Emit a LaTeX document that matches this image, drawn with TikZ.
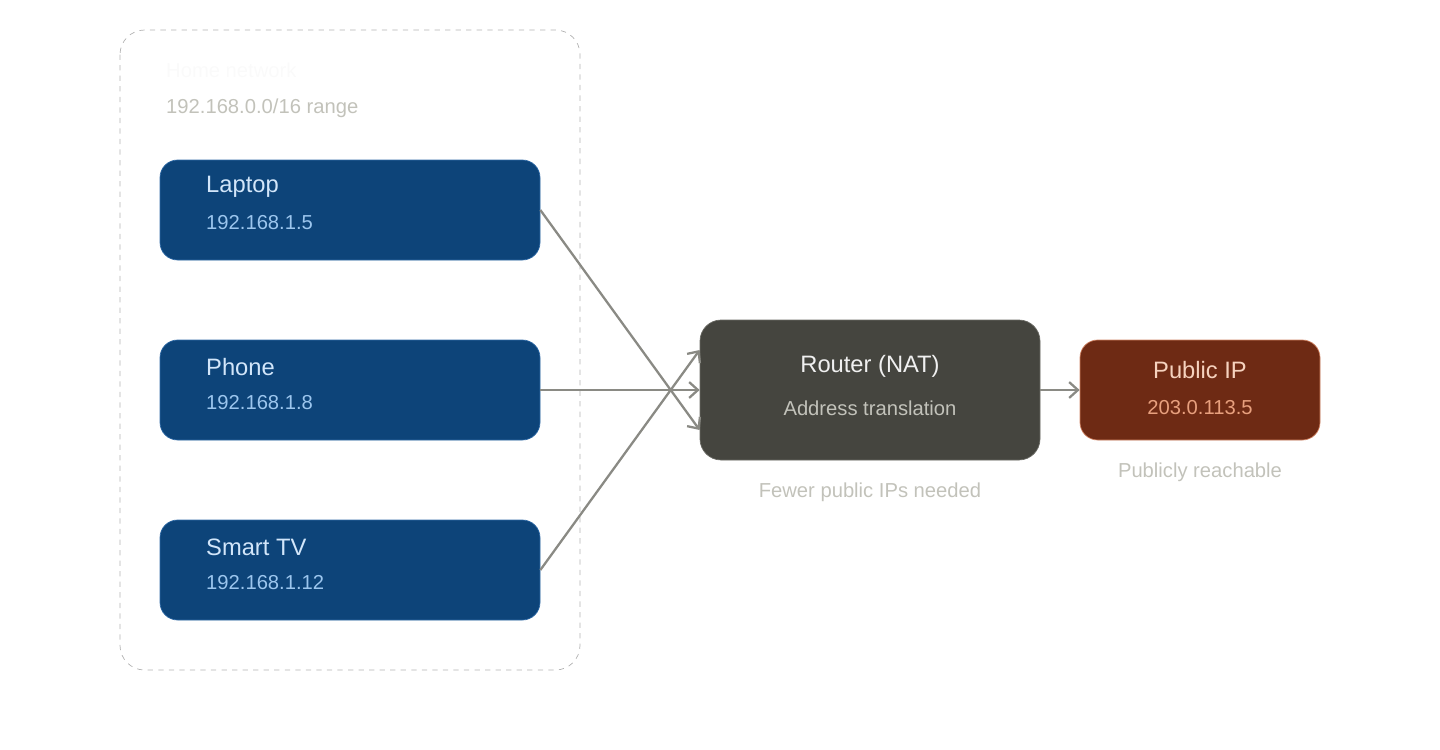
\documentclass[tikz,border=0pt]{standalone}
\usepackage{fontspec}
\setmainfont{Liberation Sans}
\usetikzlibrary{arrows.meta}
\definecolor{devfill}{HTML}{0D4479}
\definecolor{devline}{HTML}{2F6AA6}
\definecolor{devtext}{HTML}{D2E6FA}
\definecolor{devip}{HTML}{9CC6EE}
\definecolor{natfill}{HTML}{45453F}
\definecolor{natline}{HTML}{6A6A64}
\definecolor{pubfill}{HTML}{6E2A14}
\definecolor{publine}{HTML}{D08262}
\definecolor{pubtext}{HTML}{F6D2BE}
\definecolor{pubip}{HTML}{E8A07E}
\definecolor{note}{HTML}{C2C2BA}
\definecolor{wire}{HTML}{8A8A84}
\tikzset{
  device/.style={draw=devline, fill=devfill, rounded corners=10pt, minimum width=380\pxu, minimum height=100\pxu, inner sep=0},
  wirearrow/.style={draw=wire, line width=1.3pt, -{Straight Barb[length=5pt,width=9pt]}},
}
\newlength{\pxu}\setlength{\pxu}{0.02cm}
\begin{document}
\begin{tikzpicture}[x=0.02cm, y=-0.02cm, font=\fontsize{11.5}{13}\selectfont]
  \useasboundingbox (0,0) rectangle (1440,750);
  % home network group
  \draw[gray!60, dashed, rounded corners=14pt] (120,30) rectangle (580,670);
  \node[anchor=west, text=white!96!gray] (hometitle) at (160,70) {Home network};
  \node[anchor=west, text=note] (homerange) at (160,108) {192.168.0.0/16 range};

  % devices
  \node[device] (laptop) at (350,210) {};
  \node[anchor=west, text=devtext, font=\fontsize{13.5}{15}\selectfont] at (200,187) {Laptop};
  \node[anchor=west, text=devip] at (200,223) {192.168.1.5};
  \node[device] (phone) at (350,390) {};
  \node[anchor=west, text=devtext, font=\fontsize{13.5}{15}\selectfont] at (200,367) {Phone};
  \node[anchor=west, text=devip] at (200,403) {192.168.1.8};
  \node[device] (tv) at (350,570) {};
  \node[anchor=west, text=devtext, font=\fontsize{13.5}{15}\selectfont] at (200,547) {Smart TV};
  \node[anchor=west, text=devip] at (200,583) {192.168.1.12};

  % router and public ip
  \node[draw=natline, fill=natfill, rounded corners=12pt, minimum width=340\pxu, minimum height=140\pxu] (router) at (870,390) {};
  \node[text=white!88!gray, font=\fontsize{13.5}{15}\selectfont] at (870,366) {Router (NAT)};
  \node[text=note] at (870,408) {Address translation};
  \node[text=note] (routernote) at (870,492) {Fewer public IPs needed};
  \node[draw=publine, fill=pubfill, rounded corners=10pt, minimum width=240\pxu, minimum height=100\pxu] (public) at (1200,390) {};
  \node[text=pubtext, font=\fontsize{13.5}{15}\selectfont] at (1200,370) {Public IP};
  \node[text=pubip] at (1200,408) {203.0.113.5};
  \node[text=note] (publicnote) at (1200,472) {Publicly reachable};

  % connectors
  \draw[wirearrow] (laptop.east) -- ([yshift=-40\pxu]router.west);
  \draw[wirearrow] (phone.east) -- (router.west);
  \draw[wirearrow] (tv.east) -- ([yshift=40\pxu]router.west);
  \draw[wirearrow] (router.east) -- (public.west);
\end{tikzpicture}
\end{document}
